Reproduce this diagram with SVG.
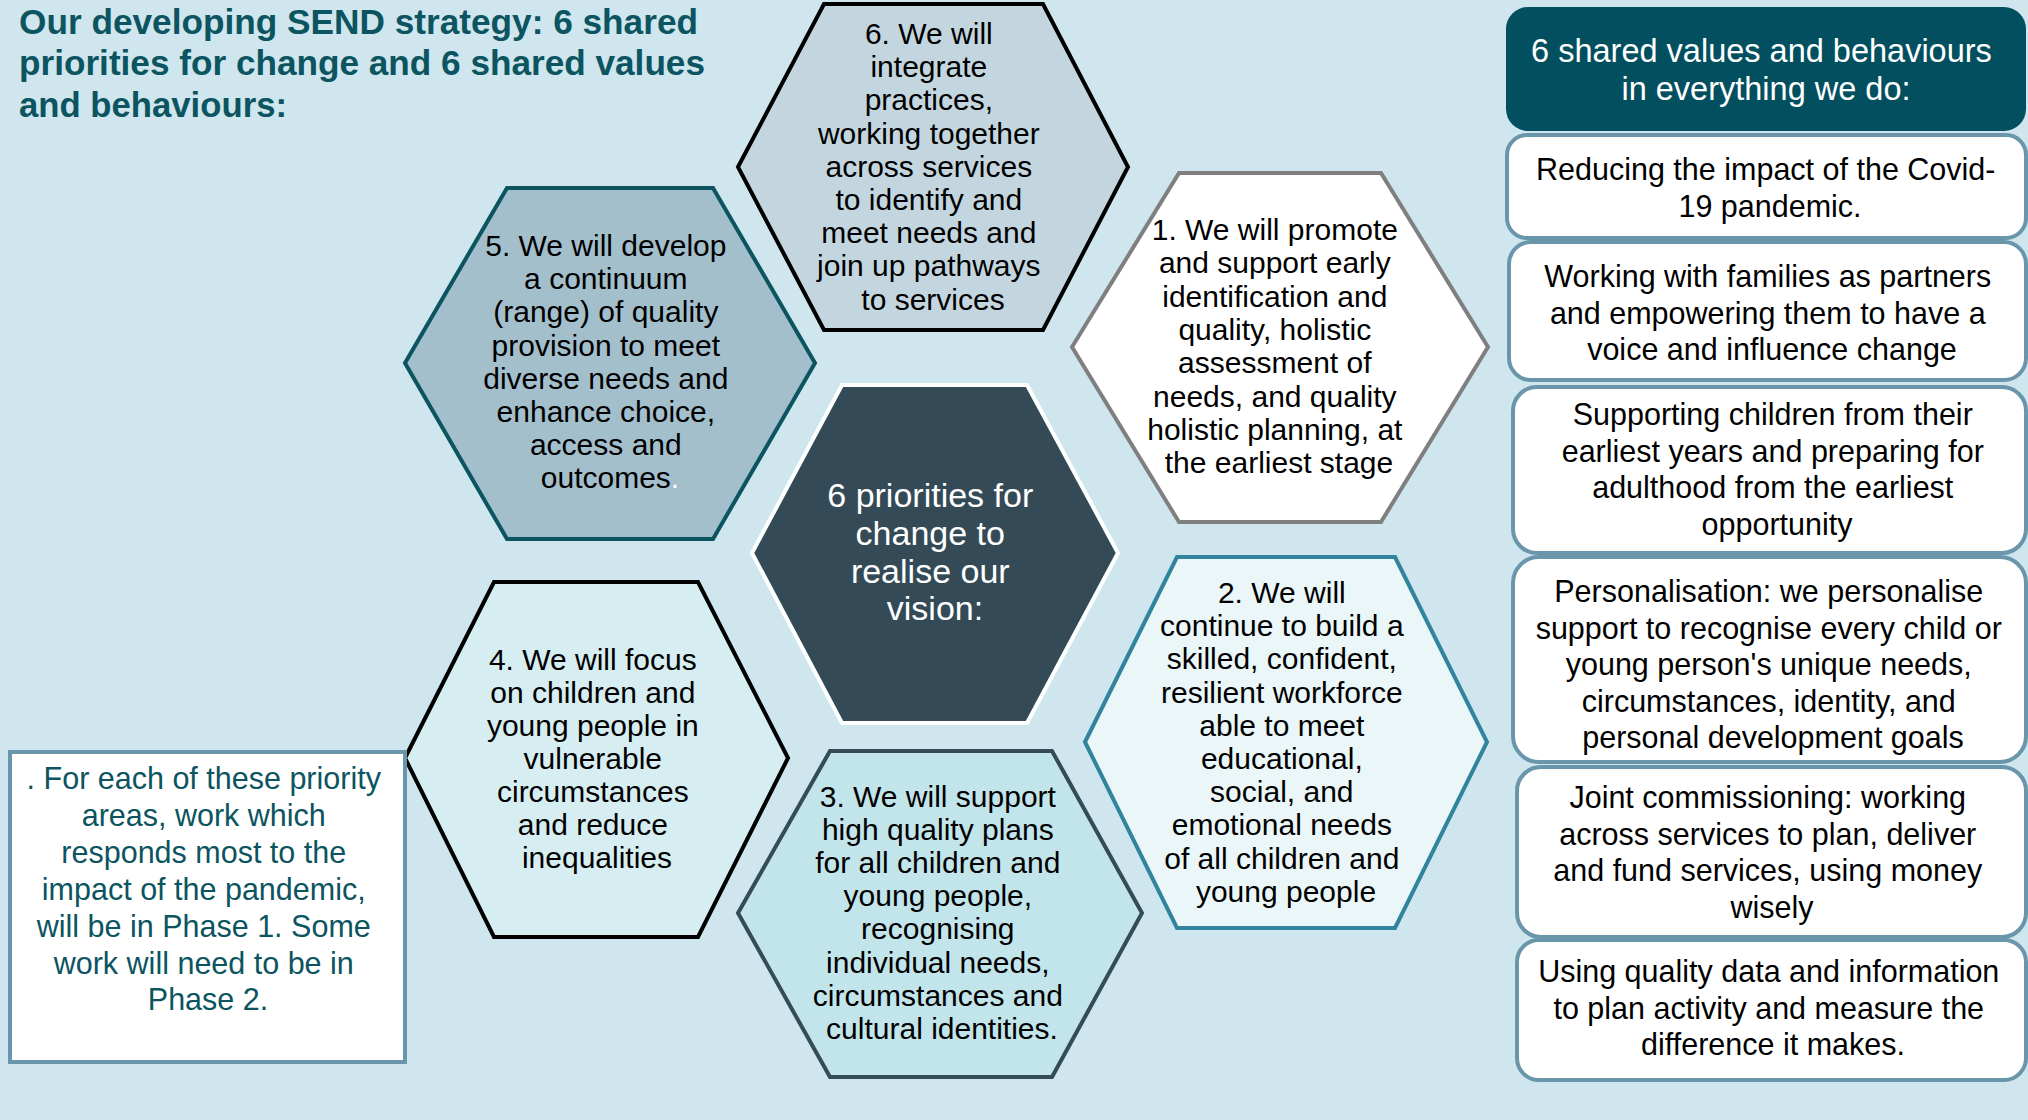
<svg xmlns="http://www.w3.org/2000/svg" width="2028" height="1120" viewBox="0 0 2028 1120">
  <style>
    text { font-family: "Liberation Sans", Arial, sans-serif; }
    .title { font-size: 35px; font-weight: bold; fill: #0B5460; }
    .hex-text { font-size: 30px; fill: #000; text-anchor: middle; }
    .core-text { font-size: 34px; fill: #FFFFFF; text-anchor: middle; }
    .note-text { font-size: 30.5px; fill: #0B5460; text-anchor: middle; }
    .value-text { font-size: 30.5px; fill: #000; text-anchor: middle; }
    .head-text { font-size: 32.5px; fill: #FFFFFF; text-anchor: middle; }
    .value-box { fill: #FFFFFF; stroke: #6A96AB; stroke-width: 4; }
  </style>

  <!-- background -->
  <rect x="0" y="0" width="2028" height="1120" fill="#CFE6EE"/>

  <!-- heading -->
  <g id="title">
    <text class="title" x="19" y="34" textLength="679" lengthAdjust="spacingAndGlyphs">Our developing SEND strategy: 6 shared</text>
    <text class="title" x="19" y="75" textLength="686" lengthAdjust="spacingAndGlyphs">priorities for change and 6 shared values</text>
    <text class="title" x="19" y="117" textLength="268" lengthAdjust="spacingAndGlyphs">and behaviours:</text>
  </g>

  <!-- priority hexagons -->
  <g id="priority-6">
    <polygon points="738,167 824,4 1043,4 1128,167 1043,330 824,330" fill="#C3D6DF" stroke="#000000" stroke-width="4" stroke-linejoin="miter"/>
    <text class="hex-text">
      <tspan x="933" y="44">6. We will</tspan>
      <tspan x="933" dy="33.2">integrate</tspan>
      <tspan x="933" dy="33.2">practices,</tspan>
      <tspan x="933" dy="33.2">working together</tspan>
      <tspan x="933" dy="33.2">across services</tspan>
      <tspan x="933" dy="33.2">to identify and</tspan>
      <tspan x="933" dy="33.2">meet needs and</tspan>
      <tspan x="933" dy="33.2">join up pathways</tspan>
      <tspan x="933" dy="33.2">to services</tspan>
    </text>
  </g>

  <g id="priority-1">
    <polygon points="1072,347 1179,173 1381,173 1488,347 1381,522 1179,522" fill="#FFFFFF" stroke="#7F7F7F" stroke-width="4"/>
    <text class="hex-text">
      <tspan x="1279" y="240">1. We will promote</tspan>
      <tspan x="1279" dy="33.3">and support early</tspan>
      <tspan x="1279" dy="33.3">identification and</tspan>
      <tspan x="1279" dy="33.3">quality, holistic</tspan>
      <tspan x="1279" dy="33.3">assessment of</tspan>
      <tspan x="1279" dy="33.3">needs, and quality</tspan>
      <tspan x="1279" dy="33.3">holistic planning, at</tspan>
      <tspan x="1279" dy="33.3">the earliest stage</tspan>
    </text>
  </g>

  <g id="priority-5">
    <polygon points="405,363 507,188 713,188 815,363 713,539 507,539" fill="#A3BFCC" stroke="#0B5460" stroke-width="4"/>
    <text class="hex-text">
      <tspan x="610" y="256">5. We will develop</tspan>
      <tspan x="610" dy="33.2">a continuum</tspan>
      <tspan x="610" dy="33.2">(range) of quality</tspan>
      <tspan x="610" dy="33.2">provision to meet</tspan>
      <tspan x="610" dy="33.2">diverse needs and</tspan>
      <tspan x="610" dy="33.2">enhance choice,</tspan>
      <tspan x="610" dy="33.2">access and</tspan>
      <tspan x="610" dy="33.2">outcomes<tspan fill="#FFFFFF">.</tspan></tspan>
    </text>
  </g>

  <g id="core">
    <polygon points="752,553 842,385 1027,385 1118,553 1027,723 842,723" fill="#344B57" stroke="#FFFFFF" stroke-width="4"/>
    <text class="core-text">
      <tspan x="935" y="507">6 priorities for</tspan>
      <tspan x="935" dy="37.8">change to</tspan>
      <tspan x="935" dy="37.8">realise our</tspan>
      <tspan x="935" dy="37.8">vision:</tspan>
    </text>
  </g>

  <g id="priority-4">
    <polygon points="405,758 494,582 698,582 788,758 698,937 494,937" fill="#D6EDF2" stroke="#000000" stroke-width="4"/>
    <text class="hex-text">
      <tspan x="597" y="670">4. We will focus</tspan>
      <tspan x="597" dy="33">on children and</tspan>
      <tspan x="597" dy="33">young people in</tspan>
      <tspan x="597" dy="33">vulnerable</tspan>
      <tspan x="597" dy="33">circumstances</tspan>
      <tspan x="597" dy="33">and reduce</tspan>
      <tspan x="597" dy="33">inequalities</tspan>
    </text>
  </g>

  <g id="priority-3">
    <polygon points="738,913 830,751 1052,751 1142,913 1052,1077 830,1077" fill="#C2E4EB" stroke="#354B57" stroke-width="4"/>
    <text class="hex-text">
      <tspan x="942" y="807">3. We will support</tspan>
      <tspan x="942" dy="33.1">high quality plans</tspan>
      <tspan x="942" dy="33.1">for all children and</tspan>
      <tspan x="942" dy="33.1">young people,</tspan>
      <tspan x="942" dy="33.1">recognising</tspan>
      <tspan x="942" dy="33.1">individual needs,</tspan>
      <tspan x="942" dy="33.1">circumstances and</tspan>
      <tspan x="942" dy="33.1">cultural identities.</tspan>
    </text>
  </g>

  <g id="priority-2">
    <polygon points="1085,742 1177,557 1395,557 1487,742 1395,928 1177,928" fill="#EAF6F8" stroke="#31849B" stroke-width="4"/>
    <text class="hex-text">
      <tspan x="1286" y="603">2. We will</tspan>
      <tspan x="1286" dy="33.2">continue to build a</tspan>
      <tspan x="1286" dy="33.2">skilled, confident,</tspan>
      <tspan x="1286" dy="33.2">resilient workforce</tspan>
      <tspan x="1286" dy="33.2">able to meet</tspan>
      <tspan x="1286" dy="33.2">educational,</tspan>
      <tspan x="1286" dy="33.2">social, and</tspan>
      <tspan x="1286" dy="33.2">emotional needs</tspan>
      <tspan x="1286" dy="33.2">of all children and</tspan>
      <tspan x="1286" dy="33.2">young people</tspan>
    </text>
  </g>

  <!-- phasing note -->
  <g id="phase-note">
    <rect x="10" y="752" width="395" height="310" fill="#FFFFFF" stroke="#6A96AB" stroke-width="4"/>
    <text class="note-text">
      <tspan x="208" y="789">. For each of these priority</tspan>
      <tspan x="208" dy="36.9">areas, work which</tspan>
      <tspan x="208" dy="36.9">responds most to the</tspan>
      <tspan x="208" dy="36.9">impact of the pandemic,</tspan>
      <tspan x="208" dy="36.9">will be in Phase 1. Some</tspan>
      <tspan x="208" dy="36.9">work will need to be in</tspan>
      <tspan x="208" dy="36.9">Phase 2.</tspan>
    </text>
  </g>

  <!-- shared values column -->
  <g id="values-header">
    <rect x="1506" y="7" width="520" height="124" rx="22" fill="#02505F"/>
    <text class="head-text">
      <tspan x="1766" y="62">6 shared values and behaviours</tspan>
      <tspan x="1766" dy="38">in everything we do:</tspan>
    </text>
  </g>

  <g id="value-1">
    <rect class="value-box" x="1507" y="135" width="519" height="103" rx="20"/>
    <text class="value-text">
      <tspan x="1770" y="180">Reducing the impact of the Covid-</tspan>
      <tspan x="1770" dy="37">19 pandemic.</tspan>
    </text>
  </g>

  <g id="value-2">
    <rect class="value-box" x="1509" y="242" width="517" height="138" rx="22"/>
    <text class="value-text">
      <tspan x="1772" y="287">Working with families as partners</tspan>
      <tspan x="1772" dy="36.7">and empowering them to have a</tspan>
      <tspan x="1772" dy="36.7">voice and influence change</tspan>
    </text>
  </g>

  <g id="value-3">
    <rect class="value-box" x="1513" y="387" width="513" height="166" rx="24"/>
    <text class="value-text">
      <tspan x="1777" y="425">Supporting children from their</tspan>
      <tspan x="1777" dy="36.7">earliest years and preparing for</tspan>
      <tspan x="1777" dy="36.7">adulthood from the earliest</tspan>
      <tspan x="1777" dy="36.7">opportunity</tspan>
    </text>
  </g>

  <g id="value-4">
    <rect class="value-box" x="1513" y="557" width="513" height="205" rx="26"/>
    <text class="value-text">
      <tspan x="1773" y="602">Personalisation: we personalise</tspan>
      <tspan x="1773" dy="36.6">support to recognise every child or</tspan>
      <tspan x="1773" dy="36.6">young person's unique needs,</tspan>
      <tspan x="1773" dy="36.6">circumstances, identity, and</tspan>
      <tspan x="1773" dy="36.6">personal development goals</tspan>
    </text>
  </g>

  <g id="value-5">
    <rect class="value-box" x="1517" y="767" width="509" height="170" rx="24"/>
    <text class="value-text">
      <tspan x="1772" y="808">Joint commissioning: working</tspan>
      <tspan x="1772" dy="36.7">across services to plan, deliver</tspan>
      <tspan x="1772" dy="36.7">and fund services, using money</tspan>
      <tspan x="1772" dy="36.7">wisely</tspan>
    </text>
  </g>

  <g id="value-6">
    <rect class="value-box" x="1517" y="940" width="509" height="140" rx="22"/>
    <text class="value-text">
      <tspan x="1773" y="982">Using quality data and information</tspan>
      <tspan x="1773" dy="36.7">to plan activity and measure the</tspan>
      <tspan x="1773" dy="36.7">difference it makes.</tspan>
    </text>
  </g>

  <!-- no connectors in this layout -->
  <g id="connectors"/>
</svg>
